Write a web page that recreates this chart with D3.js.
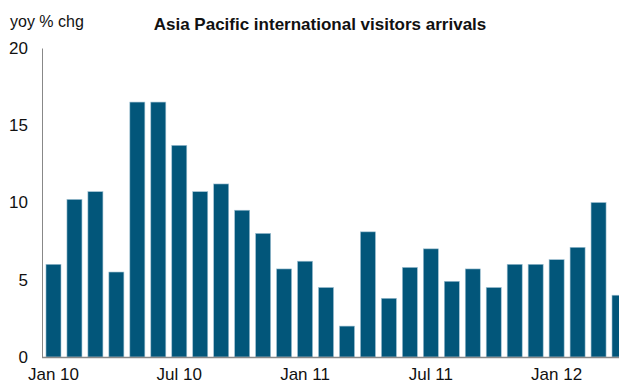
<!DOCTYPE html>
<html>
<head>
<meta charset="utf-8">
<script src="https://cdn.jsdelivr.net/npm/d3@7"></script>
<style>
  html, body { margin: 0; padding: 0; background: #fff; overflow: hidden; }
  svg { display: block; font-family: "Liberation Sans", Arial, sans-serif; }
</style>
</head>
<body>
<svg id="chart" width="619" height="385"></svg>
<script>
// Monthly year-on-year change in Asia Pacific international visitor arrivals
const months = [
  "Jan 10","Feb 10","Mar 10","Apr 10","May 10","Jun 10","Jul 10","Aug 10","Sep 10","Oct 10","Nov 10","Dec 10",
  "Jan 11","Feb 11","Mar 11","Apr 11","May 11","Jun 11","Jul 11","Aug 11","Sep 11","Oct 11","Nov 11","Dec 11",
  "Jan 12","Feb 12","Mar 12","Apr 12"
];
const yoyChange = [
  6.0, 10.2, 10.7, 5.5, 16.5, 16.5, 13.7, 10.7, 11.2, 9.5, 8.0, 5.7,
  6.2, 4.5, 2.0, 8.1, 3.8, 5.8, 7.0, 4.9, 5.7, 4.5, 6.0, 6.0,
  6.3, 7.1, 10.0, 4.0
];
const xTickLabels = ["Jan 10", "Jul 10", "Jan 11", "Jul 11", "Jan 12"];
const yTicks = [0, 5, 10, 15, 20];

const svg = d3.select("#chart");
const plotLeft = 42, plotRight = 631, plotTop = 48, plotBottom = 357;

const x = d3.scaleBand().domain(months).range([plotLeft, plotRight]).paddingInner(0.284).paddingOuter(0.19);
const y = d3.scaleLinear().domain([0, 20]).range([plotBottom, plotTop]);

// bars
svg.append("g").selectAll("rect")
  .data(yoyChange)
  .join("rect")
  .attr("x", (d, i) => x(months[i]))
  .attr("y", d => y(d))
  .attr("width", x.bandwidth())
  .attr("height", d => y(0) - y(d))
  .attr("fill", "#02567a")
  .attr("stroke", "#9fc0d2")
  .attr("stroke-width", 0.6);

// y axis
const yAxis = svg.append("g")
  .attr("transform", `translate(${plotLeft},0)`)
  .call(d3.axisLeft(y).tickValues(yTicks).tickSize(0).tickPadding(14).tickFormat(d3.format("d")));
yAxis.select(".domain").attr("stroke", "#888").attr("stroke-width", 1);
yAxis.selectAll("text").attr("font-size", 17).attr("fill", "#111").attr("font-family", "Liberation Sans, Arial, sans-serif");

// x axis
const xAxis = svg.append("g")
  .attr("transform", `translate(0,${plotBottom})`)
  .call(d3.axisBottom(x).tickValues(xTickLabels).tickSize(0).tickPadding(11));
xAxis.select(".domain").attr("stroke", "#888").attr("stroke-width", 1.5).attr("d", `M${plotLeft},0.5H619`);
xAxis.selectAll("text").attr("font-size", 17).attr("fill", "#111").attr("font-family", "Liberation Sans, Arial, sans-serif");

// unit label and title
svg.append("text").attr("x", 10).attr("y", 27)
  .attr("font-size", 16).attr("fill", "#111").text("yoy % chg");
svg.append("text").attr("x", 320).attr("y", 30).attr("text-anchor", "middle")
  .attr("font-size", 17).attr("font-weight", "bold").attr("fill", "#111")
  .text("Asia Pacific international visitors arrivals");
</script>
</body>
</html>
